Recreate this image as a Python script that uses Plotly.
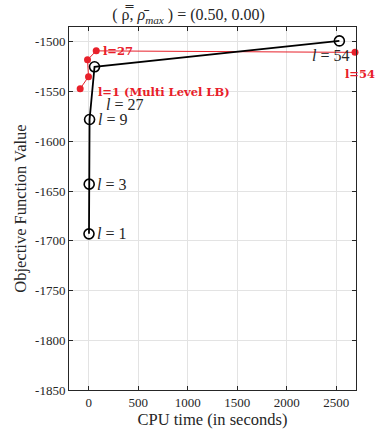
import plotly.graph_objects as go

# Multi-level (black) results
black_levels = ["1", "3", "9", "27", "54"]
black_cpu = [2, 4, 8, 58, 2532]
black_obj = [-1693, -1643, -1578, -1525, -1499]

# Multi Level LB (red) results
red_cpu = [-87, -3, -13, 75, 2690]
red_obj = [-1547, -1535, -1518, -1509, -1510.5]

x_ticks = [0, 500, 1000, 1500, 2000, 2500]
y_ticks = [-1850, -1800, -1750, -1700, -1650, -1600, -1550, -1500]

SERIF = "Liberation Serif, Times New Roman, serif"
BSERIF = "DejaVu Serif, serif"
RED = "#e8202a"
INK = "#262626"

fig = go.Figure()
fig.add_trace(go.Scatter(
    x=red_cpu, y=red_obj, mode="lines+markers",
    line=dict(color=RED, width=1),
    marker=dict(color=RED, size=7, symbol="circle"),
    cliponaxis=False, showlegend=False, hoverinfo="skip"))
fig.add_trace(go.Scatter(
    x=black_cpu, y=black_obj, mode="lines+markers",
    line=dict(color="black", width=1.8),
    marker=dict(color="black", size=10, symbol="circle-open",
                line=dict(color="black", width=1.6)),
    cliponaxis=False, showlegend=False, hoverinfo="skip"))

ann = []
# black labels
offsets = {"1": (6, 0, "left"), "3": (6, 0, "left"), "9": (6, 0, "left"),
           "27": (9, -38, "left"), "54": (12, -15, "right")}
for lv, xv, yv in zip(black_levels, black_cpu, black_obj):
    dx, dy, anc = offsets[lv]
    ann.append(dict(x=xv, y=yv, xref="x", yref="y", text=f"<i>l</i> = {lv}",
                    showarrow=False, xanchor=anc, yanchor="middle",
                    xshift=dx, yshift=dy,
                    font=dict(family=SERIF, size=16, color=INK)))
# red labels
ann.append(dict(x=red_cpu[3], y=red_obj[3], xref="x", yref="y", text="<b>l=27</b>",
                showarrow=False, xanchor="left", yanchor="middle", xshift=5, yshift=0,
                font=dict(family=BSERIF, size=11.5, color=RED)))
ann.append(dict(x=red_cpu[0], y=red_obj[0], xref="x", yref="y",
                text="<b>l=1 (Multi Level LB)</b>",
                showarrow=False, xanchor="left", yanchor="middle", xshift=16, yshift=-3,
                font=dict(family=BSERIF, size=11.5, color=RED)))
ann.append(dict(x=red_cpu[4], y=red_obj[4], xref="x", yref="y", text="<b>l=54</b>",
                showarrow=False, xanchor="right", yanchor="middle", xshift=22, yshift=-22,
                font=dict(family=BSERIF, size=11.5, color=RED)))

fig.update_layout(
    width=377, height=431,
    margin=dict(l=69, r=21, t=27, b=41, autoexpand=False),
    paper_bgcolor="white", plot_bgcolor="white",
    title=dict(text="( ρ̿, <i>ρ̄</i><sub><i>max</i></sub> ) = (0.50, 0.00)",
               x=0.5, xanchor="center", y=0.966, yanchor="middle",
               font=dict(family=SERIF, size=16, color=INK)),
    annotations=ann,
    xaxis=dict(range=[-200, 2700], tickvals=x_ticks, ticktext=[str(v) for v in x_ticks],
               showgrid=True, gridcolor="#e3e3e3", gridwidth=1, zeroline=False,
               showline=True, linecolor=INK, linewidth=1, mirror="allticks",
               ticks="inside", ticklen=4, tickcolor=INK, automargin=False,
               tickfont=dict(family=SERIF, size=13, color=INK),
               title=dict(text="CPU time (in seconds)", standoff=2,
                          font=dict(family=SERIF, size=16.5, color=INK))),
    yaxis=dict(range=[-1850, -1485], tickvals=y_ticks, ticktext=[str(v) for v in y_ticks],
               showgrid=True, gridcolor="#e3e3e3", gridwidth=1, zeroline=False,
               showline=True, linecolor=INK, linewidth=1, mirror="allticks",
               ticks="inside", ticklen=4, tickcolor=INK, automargin=False,
               tickfont=dict(family=SERIF, size=13, color=INK),
               title=dict(text="Objective Function Value", standoff=4,
                          font=dict(family=SERIF, size=16.5, color=INK))),
)

fig.write_html("out.html", config={"displayModeBar": False},
               post_script="document.body.style.margin='0px';")
